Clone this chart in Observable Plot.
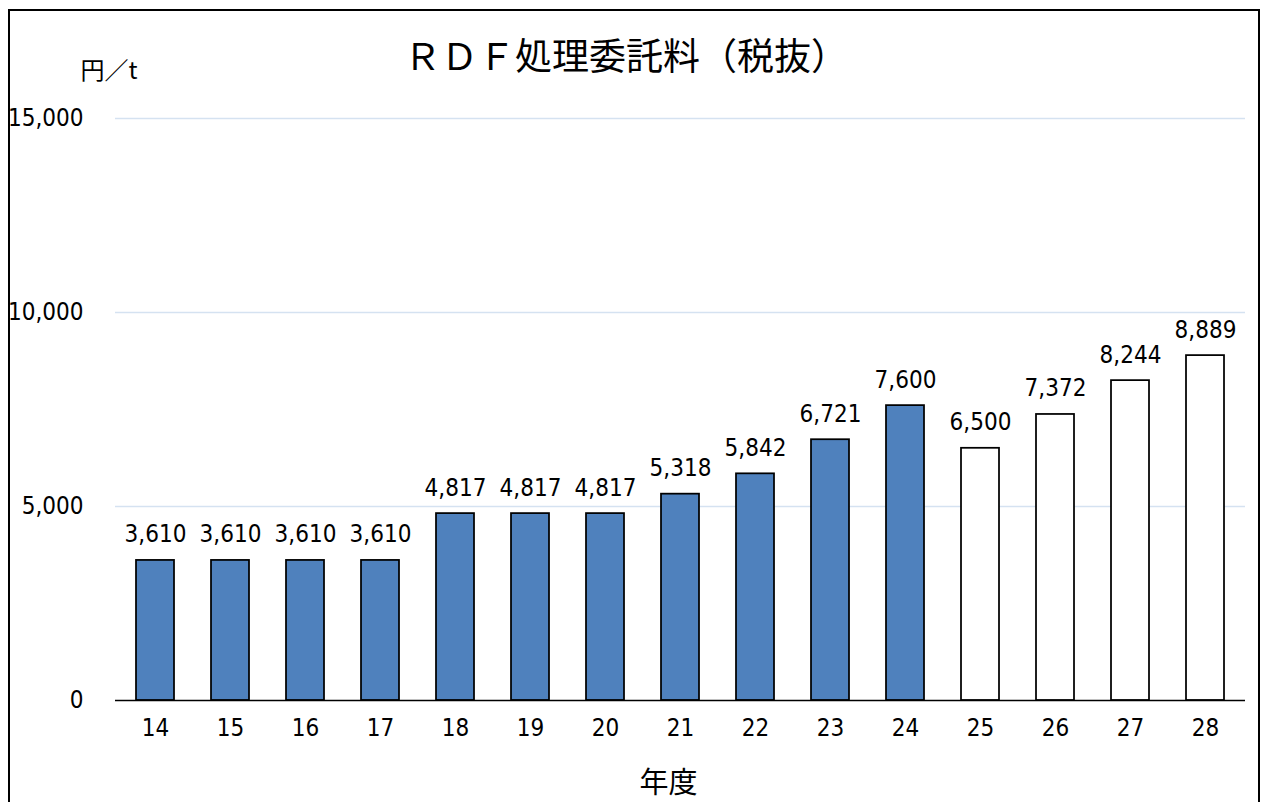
<!DOCTYPE html>
<html>
<head>
<meta charset="utf-8">
<script src="https://cdn.jsdelivr.net/npm/d3@7"></script>
<script src="https://cdn.jsdelivr.net/npm/@observablehq/plot@0.6"></script>
<style>
  html, body { margin: 0; padding: 0; background: #fff; overflow: hidden; }
  #page { position: relative; width: 1267px; height: 802px; overflow: hidden; background: #fff; }
  #frame { position: absolute; left: 8px; top: 9px; width: 1248px; height: 900px; border: 2px solid #000; box-sizing: content-box; }
  #title { position: absolute; left: 0; top: 33px; width: 1252px; text-align: center; font-family: "Noto Sans CJK JP", sans-serif; font-size: 37px; line-height: 42px; color: #000; }
  #chart { position: absolute; left: 0; top: 50px; }
</style>
</head>
<body>
<div id="page">
  <div id="frame"></div>
  <div id="title">ＲＤＦ処理委託料（税抜）</div>
  <div id="chart"></div>
</div>
<script>
const years = ["14","15","16","17","18","19","20","21","22","23","24","25","26","27","28"];
const values = [3610,3610,3610,3610,4817,4817,4817,5318,5842,6721,7600,6500,7372,8244,8889];
const kinds = ["実績","実績","実績","実績","実績","実績","実績","実績","実績","実績","実績","予定","予定","予定","予定"];
const yTicks = [0,5000,10000,15000];
const xLabel = "年度";
const yLabel = "円／t";

const data = years.map((y, i) => ({year: y, value: values[i], kind: kinds[i]}));
const fmt = d3.format(",");
const cjk = "'Noto Sans CJK JP', sans-serif";

const chart = Plot.plot({
  width: 1267,
  height: 752,
  marginLeft: 115,
  marginRight: 22,
  marginTop: 68,
  marginBottom: 102,
  style: {fontFamily: "'Liberation Sans Narrow', 'DejaVu Sans Condensed', sans-serif", fontSize: "24px", color: "#000", background: "transparent", overflow: "visible"},
  x: {domain: years, paddingInner: 0.5, paddingOuter: 0.25, align: 0.5, label: null},
  y: {domain: [0, 15000], label: null},
  color: {domain: ["実績","予定"], range: ["#4f81bd","#ffffff"]},
  marks: [
    Plot.gridY(yTicks.filter(d => d > 0), {stroke: "#d5e2f1", strokeOpacity: 1, strokeWidth: 1.5}),
    Plot.axisY({ticks: yTicks, tickSize: 0, tickPadding: 32, tickFormat: fmt, label: null}),
    Plot.axisX({tickSize: 0, tickPadding: 18, label: null}),
    Plot.barY(data, {x: "year", y: "value", fill: "kind", stroke: "#000", strokeWidth: 1.75}),
    Plot.ruleY([0], {stroke: "#000", strokeWidth: 1.5}),
    Plot.text(data, {x: "year", y: "value", text: d => fmt(d.value), lineAnchor: "bottom", dy: -18, fill: "#000"}),
    Plot.text([xLabel], {frameAnchor: "bottom", dx: -12, dy: 92, lineAnchor: "bottom", fontFamily: cjk, fontSize: 29, fill: "#000"}),
    Plot.text([yLabel], {frameAnchor: "top-left", dx: -35, dy: -40, lineAnchor: "bottom", textAnchor: "start", fontFamily: cjk, fontSize: 24, fill: "#000"})
  ]
});
document.getElementById("chart").appendChild(chart);
</script>
</body>
</html>
